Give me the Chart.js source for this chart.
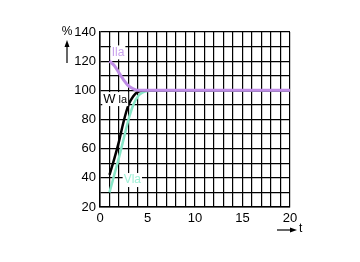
<!DOCTYPE html>
<html>
<head>
<meta charset="utf-8">
<script src="https://cdn.jsdelivr.net/npm/chart.js@4"></script>
<style>
  html, body { margin: 0; padding: 0; background: #fff; }
  #wrap { width: 360px; height: 262px; }
</style>
</head>
<body>
<div id="wrap"><canvas id="chart-curves" width="360" height="262"></canvas></div>
<script>
// time axis (t) and percentage curves
const ilaT = [1, 1.5, 2, 2.5, 3, 3.5, 4, 5, 10, 15, 20];
const ilaPct = [120, 117, 112, 107, 103, 101, 100, 100, 100, 100, 100];

const wlaT = [1, 1.5, 2, 2.5, 3, 3.5, 4, 5, 10, 15, 20];
const wlaPct = [42, 53, 65, 79, 90, 96, 99, 100, 100, 100, 100];

const vlaT = [1, 1.5, 2, 2.5, 3, 3.5, 4, 4.5, 5, 6, 20];
const vlaPct = [30, 42, 54, 67, 80, 90, 96, 98.5, 99.5, 100, 100];

const xTickLabels = [0, 5, 10, 15, 20];
const yTickLabels = [20, 40, 60, 80, 100, 120, 140];

const FONT = 'Liberation Sans, Arial, sans-serif';
const toPts = (ts, vs) => ts.map((t, i) => ({ x: t, y: vs[i] }));

// series labels placed in data coordinates, plus the axis arrows
const annotations = {
    id: 'curveLabels',
    afterDatasetsDraw(chart) {
        const { ctx, scales } = chart;
        const x = scales.x, y = scales.y;
        const tag = (t, v, parts, color) => {
            const px = x.getPixelForValue(t), py = y.getPixelForValue(v);
            let w = 0;
            parts.forEach(p => { ctx.font = p.size + 'px ' + FONT; w += ctx.measureText(p.text).width; });
            ctx.fillStyle = '#fff';
            ctx.fillRect(px - w / 2 - 1, py - 7, w + 2, 14);
            let cx = px - w / 2;
            ctx.fillStyle = color;
            ctx.textBaseline = 'middle';
            ctx.textAlign = 'left';
            parts.forEach(p => {
                ctx.font = p.size + 'px ' + FONT;
                ctx.fillText(p.text, cx, py + (p.dy || 0));
                cx += ctx.measureText(p.text).width;
            });
        };
        ctx.save();
        tag(1.9, 126, [{ text: 'Ila', size: 12 }], '#c9a2ec');
        tag(1.6, 94, [{ text: 'W', size: 13 }, { text: ' la', size: 11, dy: 1 }], '#000');
        tag(3.4, 38.5, [{ text: 'Vla', size: 12 }], '#9ff0d6');

        // % label and up arrow
        ctx.fillStyle = '#000';
        ctx.font = '12px ' + FONT;
        ctx.textAlign = 'center';
        ctx.textBaseline = 'middle';
        ctx.fillText('%', 67, 32);
        ctx.strokeStyle = '#000';
        ctx.lineWidth = 1.2;
        ctx.beginPath(); ctx.moveTo(67, 63); ctx.lineTo(67, 45); ctx.stroke();
        ctx.beginPath(); ctx.moveTo(67, 40); ctx.lineTo(64.5, 47); ctx.lineTo(69.5, 47); ctx.closePath(); ctx.fill();

        // t label and right arrow
        ctx.beginPath(); ctx.moveTo(277, 230); ctx.lineTo(292, 230); ctx.stroke();
        ctx.beginPath(); ctx.moveTo(297, 230); ctx.lineTo(290, 227.5); ctx.lineTo(290, 232.5); ctx.closePath(); ctx.fill();
        ctx.font = '12px ' + FONT;
        ctx.textAlign = 'left';
        ctx.fillText('t', 299, 229);
        ctx.restore();
    },
};

const ctx = document.getElementById('chart-curves').getContext('2d');
new Chart(ctx, {
    type: 'line',
    data: {
        datasets: [
            {
                label: 'Vla',
                data: toPts(vlaT, vlaPct),
                borderColor: '#86e6c6',
                borderWidth: 2.5,
                order: 3,
            },
            {
                label: 'Wla',
                data: toPts(wlaT, wlaPct),
                borderColor: '#000',
                borderWidth: 2.5,
                order: 2,
            },
            {
                label: 'Ila',
                data: toPts(ilaT, ilaPct),
                borderColor: '#bf8ce6',
                borderWidth: 3,
                order: 1,
            },
        ],
    },
    plugins: [annotations],
    options: {
        responsive: false,
        animation: false,
        events: [],
        layout: { padding: { top: 32, right: 70, bottom: 0, left: 0 } },
        elements: {
            point: { radius: 0 },
            line: { cubicInterpolationMode: 'monotone', borderCapStyle: 'butt' },
        },
        plugins: { legend: { display: false }, tooltip: { enabled: false } },
        scales: {
            x: {
                type: 'linear',
                min: 0,
                max: 20,
                afterFit: s => { s.height = 55; },
                border: { color: '#000', width: 1.5 },
                grid: { color: '#000', lineWidth: 1.2, drawTicks: false },
                ticks: {
                    stepSize: 1,
                    padding: 4,
                    color: '#000',
                    font: { family: FONT, size: 13 },
                    maxRotation: 0,
                    autoSkip: false,
                    callback: v => (xTickLabels.includes(v) ? String(v) : ''),
                },
            },
            y: {
                min: 20,
                max: 140,
                afterFit: s => { s.width = 100; },
                border: { color: '#000', width: 1.5 },
                grid: { color: '#000', lineWidth: 1.2, drawTicks: false },
                ticks: {
                    stepSize: 10,
                    padding: 4,
                    color: '#000',
                    font: { family: FONT, size: 13 },
                    autoSkip: false,
                    callback: v => (yTickLabels.includes(v) ? String(v) : ''),
                },
            },
        },
    },
});
</script>
</body>
</html>
